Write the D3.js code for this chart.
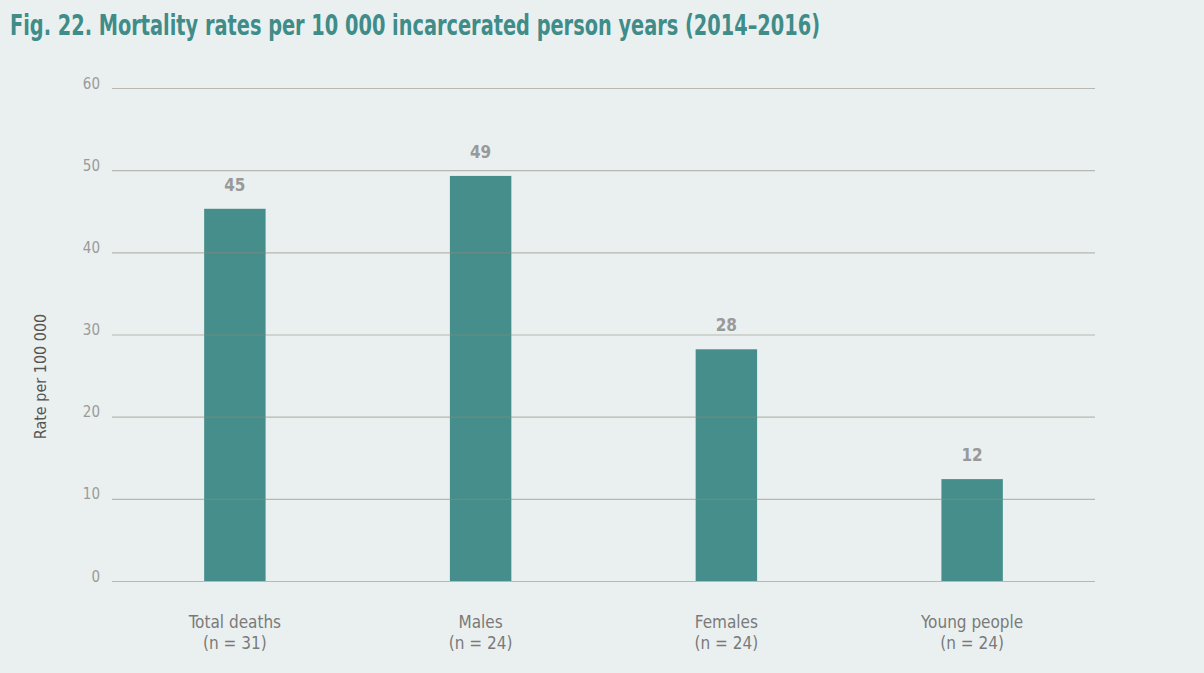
<!DOCTYPE html>
<html>
<head>
<meta charset="utf-8">
<script src="https://cdn.jsdelivr.net/npm/d3@7"></script>
<style>
  body { margin: 0; background: #eaf0f0; }
  svg { display: block; }
</style>
</head>
<body>
<svg id="chart"></svg>
<script>
// values
var categories = ['Total deaths', 'Males', 'Females', 'Young people'];
var subLabels = ['(n = 31)', '(n = 24)', '(n = 24)', '(n = 24)'];
var rates = [45.3, 49.3, 28.2, 12.4];
var shownValues = ['45', '49', '28', '12'];
var yTicks = [0, 10, 20, 30, 40, 50, 60];

var W = 1204, H = 673;
var margin = { top: 88, right: 109, bottom: 92, left: 112 };
var width = W - margin.left - margin.right,
    height = H - margin.top - margin.bottom;
var font = "'Liberation Sans Narrow', 'DejaVu Sans Condensed', sans-serif";

var svg = d3.select('#chart').attr('width', W).attr('height', H);

svg.append('rect').attr('width', W).attr('height', H).attr('fill', '#eaf0f0');

svg.append('text')
    .attr('x', 10).attr('y', 35)
    .attr('font-family', font)
    .attr('font-weight', 'bold')
    .attr('font-size', 28)
    .attr('fill', '#3f8c89')
    .attr('textLength', 810)
    .attr('lengthAdjust', 'spacingAndGlyphs')
    .text('Fig. 22. Mortality rates per 10 000 incarcerated person years (2014\u20132016)');

var g = svg.append('g').attr('transform', 'translate(' + margin.left + ',' + margin.top + ')');

var x = d3.scaleBand().domain(categories).range([0, width]).paddingInner(0.75).paddingOuter(0.375);
var y = d3.scaleLinear().domain([0, 60]).range([height, 0]);

// bars
g.selectAll('rect.bar')
    .data(categories)
    .enter()
    .append('rect')
    .attr('class', 'bar')
    .attr('x', function (d) { return x(d); })
    .attr('y', function (d, i) { return y(rates[i]); })
    .attr('width', x.bandwidth())
    .attr('height', function (d, i) { return height - y(rates[i]); })
    .attr('fill', '#468e8b');

// gridlines on top of bars, like the original
var yAxis = d3.axisLeft(y).tickValues(yTicks).tickSize(-width).tickPadding(12);
var ga = g.append('g').call(yAxis);
ga.select('.domain').remove();
ga.selectAll('.tick line')
    .attr('stroke', '#8c8a7c')
    .attr('stroke-opacity', 0.55)
    .attr('stroke-width', 1.2);
ga.selectAll('.tick text')
    .attr('font-family', font)
    .attr('font-size', 15)
    .attr('fill', '#9a9a9a')
    .attr('dy', '0em');

// value labels
g.selectAll('text.val')
    .data(categories)
    .enter()
    .append('text')
    .attr('class', 'val')
    .attr('x', function (d) { return x(d) + x.bandwidth() / 2; })
    .attr('y', function (d, i) { return y(rates[i]) - 18; })
    .attr('text-anchor', 'middle')
    .attr('font-family', font)
    .attr('font-weight', 'bold')
    .attr('font-size', 17)
    .attr('fill', '#999999')
    .text(function (d, i) { return shownValues[i]; });

// category labels
var cl = g.selectAll('text.cat')
    .data(categories)
    .enter()
    .append('text')
    .attr('class', 'cat')
    .attr('text-anchor', 'middle')
    .attr('font-family', font)
    .attr('font-size', 17)
    .attr('fill', '#7a7a7a');
cl.append('tspan')
    .attr('x', function (d) { return x(d) + x.bandwidth() / 2; })
    .attr('y', height + 47)
    .text(function (d) { return d; });
cl.append('tspan')
    .attr('x', function (d) { return x(d) + x.bandwidth() / 2; })
    .attr('y', height + 68)
    .text(function (d, i) { return subLabels[i]; });

// y axis title
svg.append('text')
    .attr('transform', 'translate(46,' + (margin.top + height / 2 + 42) + ') rotate(-90)')
    .attr('text-anchor', 'middle')
    .attr('font-family', font)
    .attr('font-size', 16)
    .attr('fill', '#555555')
    .text('Rate per 100 000');
</script>
</body>
</html>
